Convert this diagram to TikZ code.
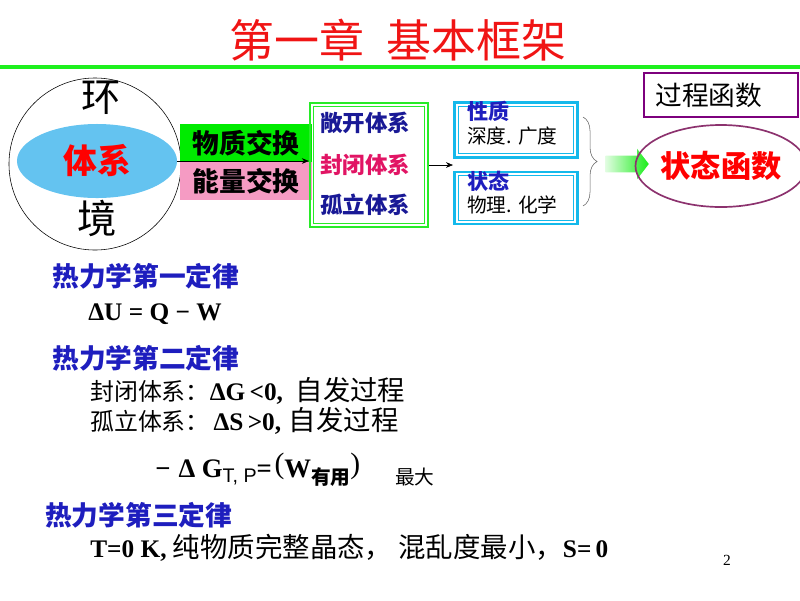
\documentclass[tikz,border=0pt]{standalone}
\usepackage{fontspec}
\setmainfont{Liberation Serif}
\setsansfont{Liberation Sans}
\newfontfamily\cjk{Noto Sans CJK SC}
\usetikzlibrary{shapes.geometric, shapes.arrows, decorations.pathreplacing, arrows.meta}
\definecolor{titlered}{RGB}{240,20,20}
\definecolor{rulegreen}{RGB}{30,240,30}
\definecolor{swapgreen}{RGB}{0,235,0}
\definecolor{swappink}{RGB}{245,155,195}
\definecolor{sysblue}{RGB}{100,195,240}
\definecolor{kindgreen}{RGB}{40,235,40}
\definecolor{boxcyan}{RGB}{20,185,235}
\definecolor{lawblue}{RGB}{30,30,190}
\definecolor{openblue}{RGB}{25,25,150}
\definecolor{closedred}{RGB}{225,20,100}
\definecolor{procpurple}{RGB}{125,0,125}
\definecolor{stateplum}{RGB}{140,50,110}
\newcommand{\fsize}[1]{\fontsize{#1}{#1}\selectfont}
\tikzset{
  swap box/.style={
    minimum width=3.3cm,
    minimum height=0.94cm,
    inner sep=0pt,
    font=\cjk\bfseries\fsize{19},
  },
  double frame/.style={
    draw=#1,
    line width=1.6pt,
    inner sep=0pt,
    path picture={
      \draw[#1, line width=0.6pt]
        ([shift={(2.6pt,-2.6pt)}]path picture bounding box.north west) rectangle
        ([shift={(-2.6pt,2.6pt)}]path picture bounding box.south east);
    },
  },
  kind text/.style={
    inner sep=0pt,
    font=\cjk\bfseries\fsize{16},
  },
  box text/.style={
    anchor=west,
    inner sep=0pt,
    font=\cjk\fsize{14},
  },
  law head/.style={
    anchor=base west,
    inner sep=0pt,
    text=lawblue,
    font=\cjk\bfseries\fsize{19},
  },
  law line/.style={
    anchor=base west,
    inner sep=0pt,
    font=\bfseries\fsize{18},
  },
  flow/.style={
    -{Stealth[length=5pt, width=4pt]},
  },
}

\begin{document}
\begin{tikzpicture}[x=0.025cm, y=-0.025cm]
  \useasboundingbox (0,0) rectangle (800,600);

  \node[font=\cjk\fsize{32}, text=titlered] (title) at (398,40) {第一章\hspace{0.5em}基本框架};
  \coordinate (ruleleft) at (0,67);
  \coordinate (ruleright) at (800,67);
  \draw[rulegreen, line width=3.5pt] (ruleleft) -- (ruleright);

  \node[circle, draw, thin, minimum size=4.3cm, inner sep=0pt] (env) at (95,164) {};
  \node[font=\cjk\fsize{28}] (envtop) at (101,98) {环};
  \node[font=\cjk\fsize{28}] (envbottom) at (97,218) {境};
  \node[ellipse, fill=sysblue, minimum width=4cm, minimum height=1.85cm, inner sep=0pt,
        font=\cjk\bfseries\fsize{24}, text=red] (sys) at (97,161) {体系};

  \node[swap box, fill=swapgreen] (matter) at (246,143) {物质交换};
  \node[swap box, fill=swappink] (energy) at (246,181) {能量交换};

  \node[double frame=kindgreen, minimum width=2.95cm, minimum height=3.1cm] (kinds) at (369,165) {};
  \node[kind text, text=openblue] (open) at (365,123) {敞开体系};
  \node[kind text, text=closedred] (closed) at (365,165) {封闭体系};
  \node[kind text, text=openblue] (isolated) at (365,205) {孤立体系};
  \draw[flow] (sys.east) -- (sys.east -| kinds.west);

  \node[double frame=boxcyan, minimum width=3.075cm, minimum height=1.37cm] (prop) at (516,130) {};
  \node[double frame=boxcyan, minimum width=3.075cm, minimum height=1.3cm] (state) at (516,198) {};
  \node[box text, font=\cjk\bfseries\fsize{15}, text=lawblue] (propname) at (467,111) {性质};
  \node[box text] (propkinds) at (467,136) {深度. 广度};
  \node[box text, font=\cjk\bfseries\fsize{15}, text=lawblue] (statename) at (467,181) {状态};
  \node[box text] (statekinds) at (467,205) {物理. 化学};
  \coordinate (fork) at (453,165);
  \draw[flow] (kinds.east) -- (fork);

  \coordinate (bracetop) at (583,117);
  \coordinate (bracebottom) at (583,206);
  \draw[gray!80!black, decorate, decoration={brace, amplitude=10pt}] (bracetop) -- (bracebottom);

  \node[single arrow, single arrow head extend=0.17cm, single arrow tip angle=105,
        minimum height=1.08cm, inner sep=0.2cm, shading=axis,
        left color=swapgreen!12, right color=swapgreen!90] (push) at (624,164) {};
  \node[ellipse, draw=stateplum, line width=1.2pt, minimum width=3.8cm, minimum height=2.05cm,
        inner sep=0pt, font=\cjk\bfseries\fsize{21.5}, text=red] (statefn) at (721,166) {状态函数};
  \node[draw=procpurple, line width=2pt, minimum width=3.85cm, minimum height=1.1cm] (procfn) at (721,95) {};
  \node[box text, font=\cjk\fsize{19}] (proctext) at (655,95) {过程函数};

  \node[law head] (law1) at (52,286) {热力学第一定律};
  \node[law line] (law1eq) at (88,320) {ΔU = Q − W};
  \node[law head] (law2) at (52,368) {热力学第二定律};
  \node[law line] (law2a) at (90,400) {{\cjk\mdseries\fsize{17}封闭体系：}ΔG\,<0,\hspace{0.5em}{\cjk\mdseries\fsize{19.5}自发过程}};
  \node[law line] (law2b) at (90,430) {{\cjk\mdseries\fsize{17}孤立体系：}\hspace{0.15em}ΔS\,>0,\hspace{0.3em}{\cjk\mdseries\fsize{19.5}自发过程}};
  \node[law line] (law2c) at (155,477) {\fsize{19}−\hspace{0.3em}Δ\hspace{0.25em}G\raisebox{-0.45ex}{\mdseries\sffamily\fsize{14}T, P}=\hspace{0.1em}\raisebox{0.3ex}{\mdseries\fsize{21}(}W\raisebox{-0.6ex}{\cjk\fsize{14}有用}\raisebox{0.3ex}{\mdseries\fsize{21})}\hspace{1.3em}\raisebox{-0.6ex}{\cjk\mdseries\fsize{14}最大}};
  \node[law head] (law3) at (45,525) {热力学第三定律};
  \node[law line] (law3a) at (90,557) {T=0 K, {\cjk\mdseries\fsize{19.5}纯物质完整晶态，\ 混乱度最小，}S=\,0};
  \node[font=\fsize{11}] (page) at (727,560) {2};
\end{tikzpicture}
\end{document}
